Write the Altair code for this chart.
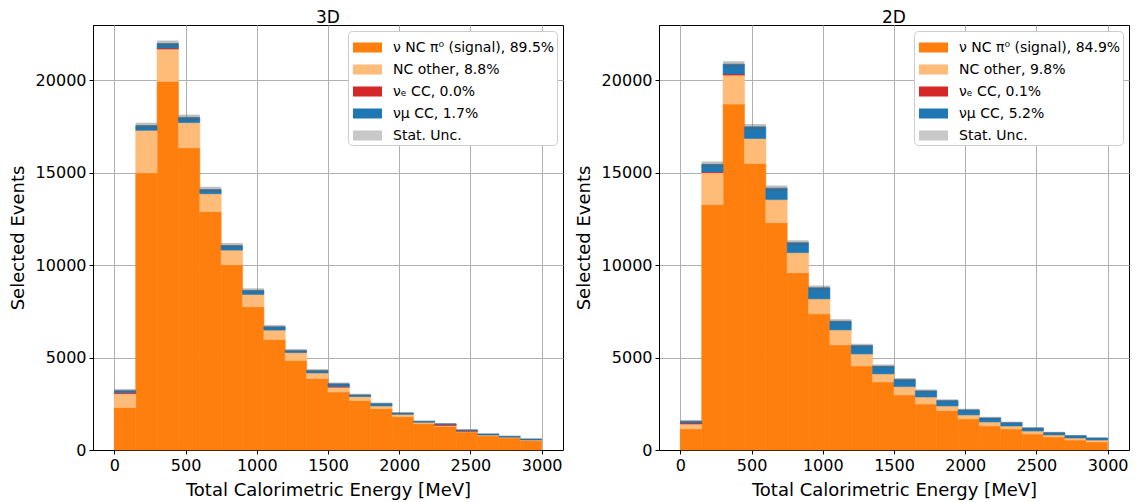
import altair as alt
import pandas as pd

# ---------------- data ----------------
bin_lo = [0, 150, 300, 450, 600, 750, 900, 1050, 1200, 1350,
          1500, 1650, 1800, 1950, 2100, 2250, 2400, 2550, 2700, 2850]
bin_width = 150

labels_3d = ["ν NC π⁰ (signal), 89.5%", "NC other, 8.8%", "νₑ CC, 0.0%", "νμ CC, 1.7%", "Stat. Unc."]
signal_3d = [2300, 15000, 19950, 16350, 12900, 10030, 7750, 5980, 4840, 3865,
             3140, 2675, 2240, 1805, 1425, 1280, 975, 760, 650, 505]
ncother_3d = [750, 2300, 1750, 1370, 970, 790, 670, 510, 430, 305,
              260, 215, 145, 125, 75, 40, 35, 50, 40, 35]
nue_3d = [50, 0, 50, 0, 0, 0, 0, 0, 0, 0,
          30, 0, 0, 0, 0, 60, 30, 0, 0, 0]
numu_3d = [110, 260, 250, 280, 230, 250, 220, 180, 110, 130,
           150, 90, 125, 70, 50, 35, 45, 55, 50, 55]
unc_3d = [90, 150, 160, 150, 140, 130, 110, 100, 90, 80,
          75, 65, 60, 55, 50, 45, 40, 35, 35, 30]

labels_2d = ["ν NC π⁰ (signal), 84.9%", "NC other, 9.8%", "νₑ CC, 0.1%", "νμ CC, 5.2%", "Stat. Unc."]
signal_2d = [1150, 13280, 18720, 15500, 12300, 9590, 7370, 5690, 4550, 3685,
             2980, 2490, 2130, 1680, 1300, 1140, 865, 705, 540, 435]
ncother_2d = [260, 1730, 1570, 1360, 1250, 1090, 810, 810, 650, 435,
              450, 380, 255, 220, 220, 160, 165, 110, 110, 105]
nue_2d = [50, 40, 60, 0, 0, 0, 0, 0, 0, 0,
          0, 0, 0, 0, 0, 0, 0, 0, 0, 0]
numu_2d = [95, 410, 530, 630, 620, 540, 600, 470, 450, 415,
           380, 330, 290, 270, 215, 180, 160, 125, 125, 110]
unc_2d = [70, 150, 160, 150, 140, 130, 120, 110, 100, 90,
          85, 80, 70, 65, 60, 55, 50, 45, 40, 35]

x_ticks = [0, 500, 1000, 1500, 2000, 2500, 3000]
y_ticks = [0, 5000, 10000, 15000, 20000]

colors = ["#ff7f0e", "#ffbb78", "#d62728", "#1f77b4", "#c8c8c8"]

FONT = "DejaVu Sans"
W, H = 470, 425


def panel(title, labels, series, unc):
    rows = []
    for order, (lab, vals) in enumerate(zip(labels[:4], series)):
        for lo, v in zip(bin_lo, vals):
            rows.append({"lo": lo, "hi": lo + bin_width, "comp": lab, "order": order, "n": v})
    df = pd.DataFrame(rows)
    totals = [sum(s[i] for s in series) for i in range(len(bin_lo))]
    udf = pd.DataFrame({
        "lo": bin_lo,
        "hi": [b + bin_width for b in bin_lo],
        "ylo": [t - u for t, u in zip(totals, unc)],
        "yhi": [t + u for t, u in zip(totals, unc)],
    })

    xscale = alt.Scale(domain=[-150, 3150], nice=False, zero=False)
    yscale = alt.Scale(domain=[0, 23000], nice=False)
    xaxis = alt.Axis(values=x_ticks, format="d", title="Total Calorimetric Energy [MeV]")
    yaxis = alt.Axis(values=y_ticks, format="d", title="Selected Events")
    cscale = alt.Scale(domain=labels, range=colors)

    bars = alt.Chart(df).transform_filter(
        alt.datum.n > 0
    ).transform_stack(
        stack="n", groupby=["lo"], as_=["y0", "y1"],
        sort=[alt.SortField("order", order="ascending")]
    ).mark_rect(strokeWidth=0.6).encode(
        x=alt.X("lo:Q", scale=xscale, axis=xaxis),
        x2="hi:Q",
        y=alt.Y("y0:Q", scale=yscale, axis=yaxis),
        y2="y1:Q",
        color=alt.Color(
            "comp:N",
            scale=cscale,
            sort=labels,
            legend=alt.Legend(
                title=None, orient="top-right", offset=6,
                symbolType="M-1,-0.345H1V0.345H-1Z", symbolSize=841,
                symbolStrokeWidth=0, labelFontSize=14, labelFont=FONT,
                labelColor="black", labelOffset=11, rowPadding=-2.4,
                padding=2, symbolOffset=3, strokeColor="#cccccc",
                fillColor="white", cornerRadius=4, labelLimit=300,
            ),
        ),
        stroke=alt.Stroke("comp:N", scale=cscale, legend=None),
        order=alt.Order("order:Q"),
    )

    band = alt.Chart(udf).mark_rect(fill="#606060", opacity=0.4, strokeWidth=0).encode(
        x=alt.X("lo:Q", scale=xscale),
        x2="hi:Q",
        y=alt.Y("ylo:Q", scale=yscale),
        y2="yhi:Q",
    )

    return alt.layer(bars, band).properties(
        width=W, height=H,
        title=alt.Title(title, fontSize=17, fontWeight="normal", font=FONT,
                        offset=-2, anchor="middle", color="black"),
    )


left = panel("3D", labels_3d, [signal_3d, ncother_3d, nue_3d, numu_3d], unc_3d)
right = panel("2D", labels_2d, [signal_2d, ncother_2d, nue_2d, numu_2d], unc_2d)

chart = alt.hconcat(left, right, spacing=10).resolve_scale(
    color="independent", stroke="independent"
).properties(
    padding={"left": 0, "top": 0, "right": 0, "bottom": 0}
).configure_view(
    stroke="black", strokeWidth=1
).configure_axis(
    labelFont=FONT, titleFont=FONT, labelFontSize=16, titleFontSize=18,
    labelColor="black", titleColor="black", titleFontWeight="normal",
    domainColor="black", tickColor="black", tickSize=4, labelPadding=3,
    gridColor="#b0b0b0", gridWidth=1, grid=True, titlePadding=8,
)

chart.save("out.html", embed_options={"renderer": "svg", "actions": False})
